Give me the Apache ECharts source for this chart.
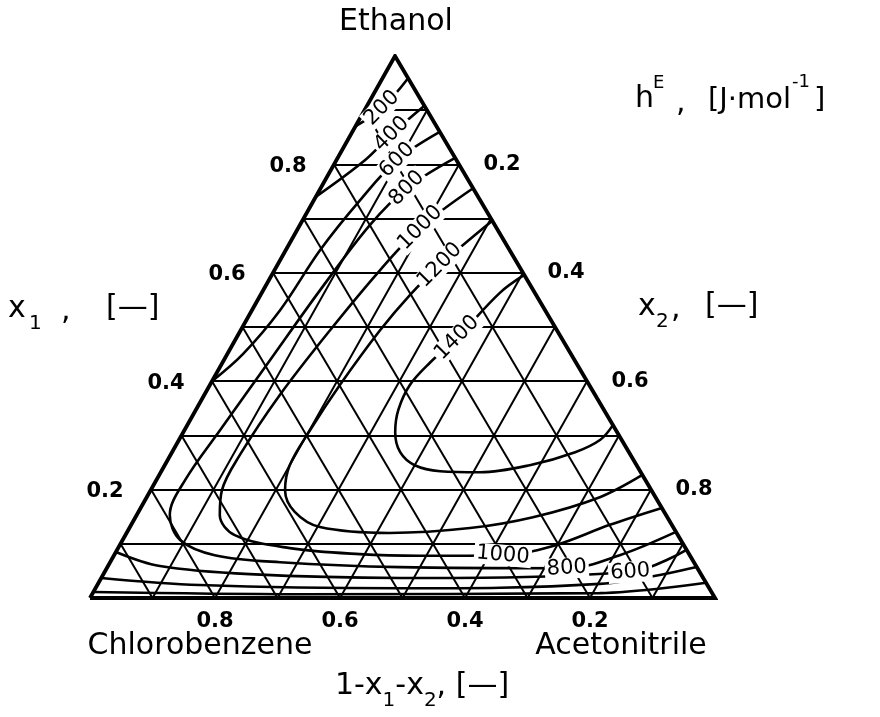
<!DOCTYPE html>
<html>
<head>
<meta charset="utf-8">
<script src="https://cdn.jsdelivr.net/npm/echarts@6/dist/echarts.min.js"></script>
<style>
  html, body { margin: 0; padding: 0; background: #fff; }
  #chart { width: 880px; height: 717px; }
</style>
</head>
<body>
<div id="chart"></div>
<script>
// Excess enthalpy h^E of ethanol (1) + acetonitrile (2) + chlorobenzene (3).
// Every composition is written as [x1, x2]; x3 = 1 - x1 - x2.

const gridFractions = [0.1, 0.2, 0.3, 0.4, 0.5, 0.6, 0.7, 0.8, 0.9];
const tickValues = [0.2, 0.4, 0.6, 0.8];

// iso-enthalpy lines, J/mol
const h200Upper = [[0.959, 0.041], [0.904, 0.026], [0.870, 0.000]];
const h200Lower = [[0.011, 0.000], [0.007, 0.332], [0.009, 0.811], [0.028, 0.972]];
const h400Upper = [[0.908, 0.092], [0.856, 0.065], [0.808, 0.046], [0.740, 0.000]];
const h400Lower = [[0.037, 0.000], [0.024, 0.164], [0.018, 0.487], [0.026, 0.803], [0.057, 0.943]];
const h600Upper = [[0.860, 0.140], [0.808, 0.097], [0.734, 0.074], [0.642, 0.055], [0.531, 0.045], [0.450, 0.025], [0.400, 0.000]];
const h600Lower = [[0.085, 0.000], [0.059, 0.083], [0.044, 0.234], [0.037, 0.478], [0.048, 0.841], [0.089, 0.911]];
const h800 = [[0.812, 0.188], [0.756, 0.138], [0.688, 0.112], [0.568, 0.091], [0.439, 0.074], [0.310, 0.057],
              [0.218, 0.046], [0.153, 0.053], [0.107, 0.092], [0.079, 0.161], [0.066, 0.272], [0.057, 0.468],
              [0.055, 0.736], [0.079, 0.809], [0.122, 0.878]];
const h1000 = [[0.756, 0.244], [0.683, 0.195], [0.605, 0.169], [0.494, 0.143], [0.375, 0.121], [0.264, 0.111],
               [0.199, 0.114], [0.153, 0.133], [0.116, 0.175], [0.092, 0.275], [0.081, 0.392], [0.078, 0.490],
               [0.079, 0.622], [0.096, 0.694], [0.135, 0.766], [0.166, 0.834]];
const h1200 = [[0.696, 0.304], [0.614, 0.260], [0.559, 0.239], [0.494, 0.223], [0.393, 0.208], [0.310, 0.201],
               [0.245, 0.200], [0.199, 0.215], [0.159, 0.250], [0.131, 0.304], [0.120, 0.421], [0.129, 0.545],
               [0.149, 0.636], [0.186, 0.725], [0.227, 0.773]];
const h1400 = [[0.596, 0.404], [0.563, 0.381], [0.480, 0.353], [0.434, 0.332], [0.393, 0.320], [0.347, 0.324],
               [0.306, 0.339], [0.269, 0.365], [0.245, 0.400], [0.234, 0.446], [0.232, 0.511], [0.245, 0.584],
               [0.269, 0.645], [0.292, 0.674], [0.319, 0.681]];

// where each level is written on its line
const labelLevels = [200, 400, 600, 800, 1000, 1200, 1400, 1000, 800, 600];
const labelPoints = [[0.904, 0.026], [0.856, 0.065], [0.808, 0.097], [0.756, 0.138], [0.683, 0.195],
                     [0.614, 0.260], [0.480, 0.353], [0.079, 0.622], [0.055, 0.736], [0.048, 0.841]];
const labelAngles = [45, 45, 45, 45, 45, 45, 45, -5, 3, 4];

// ---- drawing ----
const APEX = 0.488;                 // horizontal place of the ethanol corner along the base
const project = p => [p[1] + APEX * p[0], p[0]];
const FONT = 'DejaVu Sans';
const INK = '#000';

const series = [];

// composition grid, step 0.1 for each component
const gridSegs = [];
gridFractions.forEach(v => {
  gridSegs.push({ coords: [project([v, 0]), project([v, 1 - v])] });       // x1 = v
  gridSegs.push({ coords: [project([0, v]), project([1 - v, v])] });       // x2 = v
  gridSegs.push({ coords: [project([0, 1 - v]), project([1 - v, 0])] });   // x3 = v
});
series.push({
  type: 'lines', coordinateSystem: 'cartesian2d', silent: true, z: 1,
  lineStyle: { color: INK, width: 2, opacity: 1 }, data: gridSegs
});

// the triangle
series.push({
  type: 'lines', coordinateSystem: 'cartesian2d', silent: true, z: 4, polyline: true,
  lineStyle: { color: INK, width: 3.8, opacity: 1, join: 'miter' },
  data: [{ coords: [project([0, 0]), project([0, 1]), project([1, 0]), project([0, 0])] }]
});

// iso-enthalpy lines
[h200Upper, h200Lower, h400Upper, h400Lower, h600Upper, h600Lower, h800, h1000, h1200, h1400].forEach(c => {
  series.push({
    type: 'line', data: c.map(project), smooth: 0.35, symbol: 'none', silent: true, z: 2,
    lineStyle: { color: INK, width: 2.6 }
  });
});

const labelText = {
  color: INK, fontFamily: FONT, textBorderWidth: 0, textShadowBlur: 0, opacity: 1
};

// level labels
series.push({
  type: 'scatter', symbolSize: 0, silent: true, z: 6, itemStyle: { opacity: 1, color: INK },
  data: labelPoints.map((p, i) => ({
    value: project(p),
    label: Object.assign({
      show: true, position: 'inside', formatter: String(labelLevels[i]), rotate: labelAngles[i],
      fontSize: 21, backgroundColor: '#fff', padding: [0, 2]
    }, labelText)
  }))
});

// tick labels on the three sides
const tickLabel = (pts, offset) => ({
  type: 'scatter', symbolSize: 0, silent: true, z: 6, itemStyle: { opacity: 1, color: INK },
  data: pts.map((p, i) => ({ value: project(p), name: tickValues[i].toFixed(1) })),
  label: Object.assign({
    show: true, position: 'inside', offset: offset, formatter: '{b}',
    fontSize: 21, fontWeight: 'bold'
  }, labelText)
});
series.push(tickLabel(tickValues.map(v => [v, 0]), [-46, 2]));        // x1, left side
series.push(tickLabel(tickValues.map(v => [1 - v, v]), [43, 0]));     // x2, right side
series.push(tickLabel(tickValues.map(v => [0, 1 - v]), [0, 24]));     // 1-x1-x2, base

// titles: text pieces, indices lowered or raised
const ctx = document.createElement('canvas').getContext('2d');
const fontOf = size => size + 'px "' + FONT + '"';
const widthOf = (t, size) => { ctx.font = fontOf(size); return ctx.measureText(t).width; };
const at = (t, x, y, size) => ({
  type: 'text', silent: true, z: 10,
  style: { text: t, x: x, y: y, fill: INK, font: fontOf(size), textVerticalAlign: 'middle' }
});
// consecutive pieces centred on x: [text, size, vertical shift]
function centredRun(list, x, y) {
  const total = list.reduce((s, r) => s + widthOf(r[0], r[1]), 0);
  let cx = x - total / 2;
  return list.map(r => { const el = at(r[0], cx, y + (r[2] || 0), r[1]); cx += widthOf(r[0], r[1]); return el; });
}
const SUB = 15;
const graphics = [].concat(
  centredRun([['Ethanol', 30]], 396, 22),
  centredRun([['Chlorobenzene', 30]], 200, 646),
  centredRun([['Acetonitrile', 30]], 621, 646),
  [at('x', 8, 309, 30), at('1', 29, 324, 20), at(',', 61, 311, 30), at('[—]', 106, 308, 30)],
  [at('x', 638, 307, 30), at('2', 656, 322, 20), at(',', 671, 309, 30), at('[—]', 705, 306, 30)],
  [at('h', 635, 99, 30), at('E', 653, 83, 18), at(',', 676, 103, 30),
   at('[J·mol', 708, 100, 29), at('-1', 792, 82, 18), at(']', 814, 100, 29)],
  centredRun([['1-x', 30], ['1', 20, SUB], ['-x', 30], ['2', 20, SUB], [', [—]', 30]], 422, 686)
);

const chart = echarts.init(document.getElementById('chart'), null, { renderer: 'canvas' });
chart.setOption({
  animation: false,
  backgroundColor: '#fff',
  grid: { left: 90, top: 56, width: 625, height: 542 },
  xAxis: { type: 'value', min: 0, max: 1, show: false },
  yAxis: { type: 'value', min: 0, max: 1, show: false },
  series: series,
  graphic: graphics
});
</script>
</body>
</html>
